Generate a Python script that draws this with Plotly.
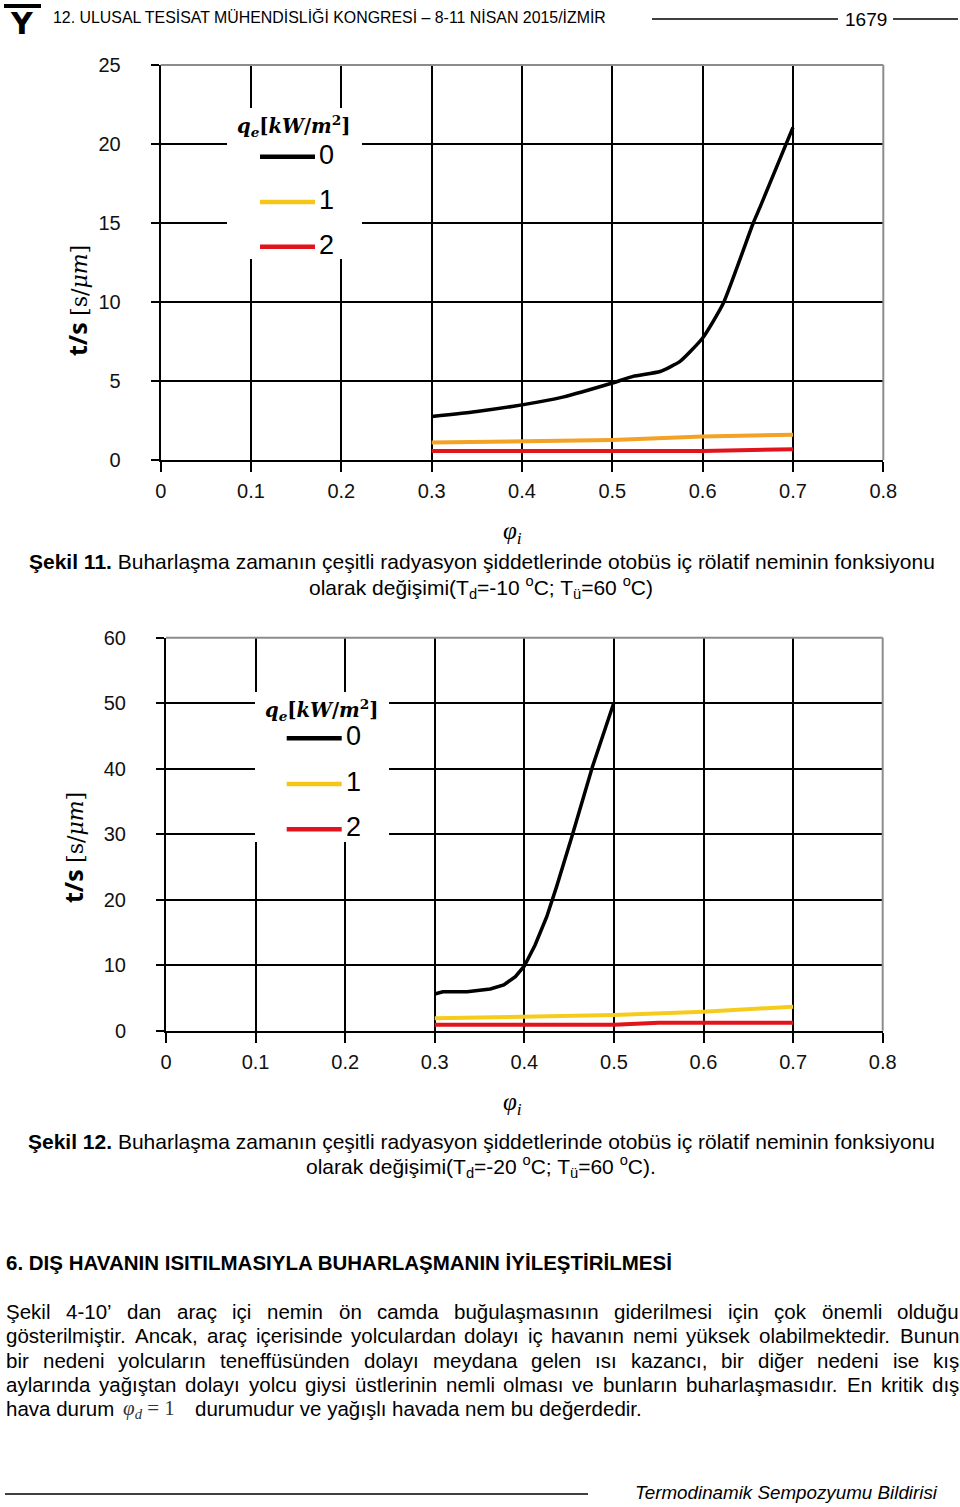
import plotly.graph_objects as go

W, H = 960, 1507

# ---------------- data ----------------
x_ticks = [0, 0.1, 0.2, 0.3, 0.4, 0.5, 0.6, 0.7, 0.8]
x_ticktext = ["0", "0.1", "0.2", "0.3", "0.4", "0.5", "0.6", "0.7", "0.8"]
y1_ticks = [0, 5, 10, 15, 20, 25]
y1_ticktext = ["0", "5", "10", "15", "20", "25"]
y2_ticks = [0, 10, 20, 30, 40, 50, 60]
y2_ticktext = ["0", "10", "20", "30", "40", "50", "60"]

series_names = ["0", "1", "2"]

# Şekil 11 (Td = -10 °C)
phi1_q0 = [0.30, 0.35, 0.40, 0.445, 0.50, 0.523, 0.553, 0.575, 0.60, 0.623, 0.656, 0.664, 0.70]
ts1_q0 = [2.75, 3.07, 3.49, 3.98, 4.87, 5.29, 5.60, 6.24, 7.72, 9.94, 15.0, 16.07, 21.05]
phi1_q1 = [0.3, 0.4, 0.5, 0.6, 0.7]
ts1_q1 = [1.10, 1.18, 1.27, 1.48, 1.60]
phi1_q2 = [0.3, 0.4, 0.5, 0.6, 0.7]
ts1_q2 = [0.57, 0.57, 0.57, 0.57, 0.68]

# Şekil 12 (Td = -20 °C)
phi2_q0 = [0.30, 0.309, 0.336, 0.362, 0.377, 0.390, 0.40, 0.412, 0.425, 0.436, 0.453, 0.476, 0.50]
ts2_q0 = [5.6, 5.95, 5.95, 6.36, 6.98, 8.25, 9.88, 13.08, 17.4, 22.0, 29.6, 40.3, 50.1]
phi2_q1 = [0.3, 0.4, 0.5, 0.6, 0.7]
ts2_q1 = [1.89, 2.14, 2.40, 2.90, 3.67]
phi2_q2 = [0.3, 0.4, 0.5, 0.55, 0.6, 0.7]
ts2_q2 = [0.92, 0.92, 0.92, 1.20, 1.20, 1.20]

# ---------------- styles ----------------
SANS = "Liberation Sans, Arial, sans-serif"
SERIF = "Liberation Serif, DejaVu Serif, serif"
BLACK = "#000000"
ORANGE = "#F2A224"
YELLOW = "#F6CC1C"
LEG_YELLOW = "#F5C518"
RED = "#E2141B"
GRAY = "#8c8c8c"


def px(x):
    return x / W


def py(y):
    return 1 - y / H


fig = go.Figure()

fig.add_trace(go.Scatter(x=phi1_q0, y=ts1_q0, mode="lines", name=series_names[0],
                         line=dict(color=BLACK, width=3.5, shape="spline", smoothing=0.5),
                         xaxis="x", yaxis="y", showlegend=False))
fig.add_trace(go.Scatter(x=phi1_q1, y=ts1_q1, mode="lines", name=series_names[1],
                         line=dict(color=ORANGE, width=4), xaxis="x", yaxis="y", showlegend=False))
fig.add_trace(go.Scatter(x=phi1_q2, y=ts1_q2, mode="lines", name=series_names[2],
                         line=dict(color=RED, width=4), xaxis="x", yaxis="y", showlegend=False))

fig.add_trace(go.Scatter(x=phi2_q0, y=ts2_q0, mode="lines", name=series_names[0],
                         line=dict(color=BLACK, width=3.5),
                         xaxis="x2", yaxis="y2", showlegend=False))
fig.add_trace(go.Scatter(x=phi2_q1, y=ts2_q1, mode="lines", name=series_names[1],
                         line=dict(color=YELLOW, width=4), xaxis="x2", yaxis="y2", showlegend=False))
fig.add_trace(go.Scatter(x=phi2_q2, y=ts2_q2, mode="lines", name=series_names[2],
                         line=dict(color=RED, width=4), xaxis="x2", yaxis="y2", showlegend=False))


def xcfg(domain, anchor):
    return dict(domain=domain, anchor=anchor, range=[0, 0.8], tickvals=x_ticks, ticktext=x_ticktext,
                showgrid=True, gridcolor=BLACK, gridwidth=2, ticks="outside", ticklen=10,
                tickwidth=2, tickcolor=BLACK, showline=True, linecolor=BLACK, linewidth=2,
                zeroline=False, ticklabelstandoff=2, automargin=False,
                tickfont=dict(family=SANS, size=20, color="#111"))


def ycfg(domain, anchor, rng, tv, tt):
    return dict(domain=domain, anchor=anchor, range=rng, tickvals=tv, ticktext=tt,
                showgrid=True, gridcolor=BLACK, gridwidth=2, ticks="outside", ticklen=8,
                tickwidth=2, tickcolor=BLACK, showline=True, linecolor=BLACK, linewidth=2,
                zeroline=False, ticklabelstandoff=26, automargin=False,
                tickfont=dict(family=SANS, size=20, color="#111"))


fig.update_layout(
    width=W, height=H, autosize=False,
    margin=dict(l=0, r=0, t=0, b=0, pad=0, autoexpand=False),
    paper_bgcolor="white", plot_bgcolor="white", showlegend=False,
    xaxis=xcfg([px(160.7), px(883.3)], "y"),
    yaxis=ycfg([py(460), py(65)], "x", [0, 25], y1_ticks, y1_ticktext),
    xaxis2=xcfg([px(166), px(882.7)], "y2"),
    yaxis2=ycfg([py(1030.7), py(637.7)], "x2", [0, 60], y2_ticks, y2_ticktext),
)

shapes = []
annotations = []


def line(x0, y0, x1, y1, color=BLACK, width=1.5):
    shapes.append(dict(type="line", xref="paper", yref="paper", x0=px(x0), y0=py(y0),
                       x1=px(x1), y1=py(y1), line=dict(color=color, width=width), layer="above"))


def rect(x0, y0, x1, y1, color="white"):
    shapes.append(dict(type="rect", xref="paper", yref="paper", x0=px(x0), y0=py(y0),
                       x1=px(x1), y1=py(y1), fillcolor=color, line=dict(width=0), layer="above"))


def ann(x, y, text, size, xanchor="left", family=SANS, color=BLACK, **kw):
    annotations.append(dict(x=px(x), y=py(y), xref="paper", yref="paper", text=text,
                            showarrow=False, xanchor=xanchor, yanchor="middle",
                            font=dict(family=family, size=size, color=color), **kw))


# gray top/right borders of plot areas
for xr, yr in (("x", "y"), ("x2", "y2")):
    shapes.append(dict(type="line", xref=xr + " domain", yref=yr + " domain", x0=0, x1=1, y0=1, y1=1,
                       line=dict(color=GRAY, width=2), layer="above"))
    shapes.append(dict(type="line", xref=xr + " domain", yref=yr + " domain", x0=1, x1=1, y0=0, y1=1,
                       line=dict(color=GRAY, width=2), layer="above"))

# legends (drawn manually)
LEG_TITLE = "<b><i>q<sub>e</sub></i>[<i>kW</i>/<i>m</i><sup>2</sup>]</b>"
leg_colors = [BLACK, LEG_YELLOW, RED]


def legend(bx0, by0, bx1, by1, tx, ty, lx0, lx1, ys):
    rect(bx0, by0, bx1, by1)
    ann(tx, ty, LEG_TITLE, 19.5, xanchor="center", family="DejaVu Serif, serif")
    for name, col, yy in zip(series_names, leg_colors, ys):
        line(lx0, yy, lx1, yy, color=col, width=4.5)
        ann(lx1 + 2, yy - 2, name, 27, family=SANS)


legend(227, 108, 362, 259, 293, 126, 260, 315, [156.7, 202, 246.7])
legend(255, 692, 389, 842, 321.7, 710, 286.7, 341.7, [738.3, 784, 829.3])

# axis titles
YT = ('<b>t/s</b> <span style="font-family:DejaVu Serif, serif;font-size:22px">'
      '[s/<i>μm</i>]</span>')
ann(77, 301, YT, 25, xanchor="center", family="Open Sans, Lato, sans-serif", textangle=-90)
ann(73, 848, YT, 25, xanchor="center", family="Open Sans, Lato, sans-serif", textangle=-90)
XT = "<i>φ<sub>i</sub></i>"
ann(512, 532, XT, 25, xanchor="center", family=SERIF)
ann(512, 1103, XT, 25, xanchor="center", family=SERIF)

# captions
CAP = 21
ann(481.5, 562, "<b>Şekil 11.</b> Buharlaşma zamanın çeşitli radyasyon şiddetlerinde otobüs iç rölatif neminin fonksiyonu",
    CAP, xanchor="center")
ann(481, 587, "olarak değişimi(T<sub>d</sub>=-10 <sup>o</sup>C; T<sub>ü</sub>=60 <sup>o</sup>C)", CAP, xanchor="center")
ann(481.5, 1141, "<b>Şekil 12.</b> Buharlaşma zamanın çeşitli radyasyon şiddetlerinde otobüs iç rölatif neminin fonksiyonu",
    CAP, xanchor="center")
ann(481, 1166, "olarak değişimi(T<sub>d</sub>=-20 <sup>o</sup>C; T<sub>ü</sub>=60 <sup>o</sup>C).", CAP, xanchor="center")

# header
shapes.append(dict(type="rect", xref="paper", yref="paper", x0=px(4), x1=px(41), y0=py(8), y1=py(4),
                   fillcolor=BLACK, line=dict(width=0), layer="above"))
ann(22, 23, "<b>Y</b>", 30, xanchor="center", family="DejaVu Sans, sans-serif")
ann(51, 17, "12. ULUSAL TESİSAT MÜHENDİSLİĞİ KONGRESİ – 8-11 NİSAN 2015/İZMİR", 15.9, family=SANS)
line(652, 19, 838, 19, width=1.5)
ann(866, 19, "1679", 19, xanchor="center", family=SANS)
line(893, 19, 958, 19, width=1.5)

# footer
line(5, 1494, 588, 1494, width=1.5)
ann(786, 1492, "<i>Termodinamik Sempozyumu Bildirisi</i>", 18.8, xanchor="center", family=SANS)

# heading
ann(4, 1262, "<b>6. DIŞ HAVANIN ISITILMASIYLA BUHARLAŞMANIN İYİLEŞTİRİLMESİ</b>", 20.5)

# justified paragraph
AW = {' ': 278, 'a': 556, 'b': 556, 'c': 500, 'd': 556, 'e': 556, 'f': 278, 'g': 556, 'h': 556,
      'i': 222, 'j': 222, 'k': 500, 'l': 222, 'm': 833, 'n': 556, 'o': 556, 'p': 556, 'q': 556,
      'r': 333, 's': 500, 't': 278, 'u': 556, 'v': 500, 'w': 722, 'x': 500, 'y': 500, 'z': 500,
      '.': 278, ',': 278, '’': 222, '-': 333, 'ş': 500, 'ç': 500, 'ğ': 556, 'ı': 278, 'ö': 556,
      'ü': 556, 'A': 667, 'B': 667, 'E': 667, 'Ş': 667, 'İ': 278}


def tw(s, size):
    return sum(AW.get(c, 556) for c in s) / 1000 * size


PSIZE = 20.5
para_lines = [
    "Şekil 4-10’ dan araç içi nemin ön camda buğulaşmasının giderilmesi için çok önemli olduğu",
    "gösterilmiştir. Ancak, araç içerisinde yolculardan dolayı iç havanın nemi yüksek olabilmektedir. Bunun",
    "bir nedeni yolcuların teneffüsünden dolayı meydana gelen ısı kazancı, bir diğer nedeni ise kış",
    "aylarında yağıştan dolayı yolcu giysi üstlerinin nemli olması ve bunların buharlaşmasıdır. En kritik dış",
]
para_y = [1311, 1335, 1360, 1384]
for txt, yy in zip(para_lines, para_y):
    words = txt.split(" ")
    widths = [tw(w_, PSIZE) for w_ in words]
    gap = (958 - 5 - sum(widths)) / (len(words) - 1)
    xx = 5
    for w_, wd in zip(words, widths):
        ann(xx - 1, yy, w_, PSIZE)
        xx += wd + gap

ann(4, 1408, "hava durum", PSIZE)
ann(121, 1409, '<i>φ<sub>d</sub></i> = 1', 21, family=SERIF, color="#333")
ann(193, 1408, "durumudur ve yağışlı havada nem bu değerdedir.", PSIZE)

fig.update_layout(shapes=shapes, annotations=annotations)
fig.write_html(
    "out.html",
    config={"displayModeBar": False},
    post_script="document.body.style.margin='0px';document.body.style.overflow='hidden';",
)
